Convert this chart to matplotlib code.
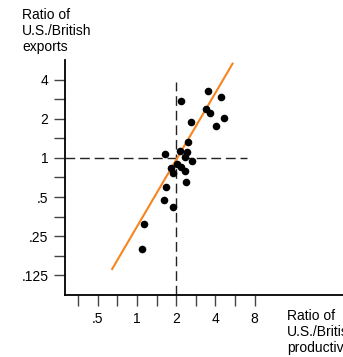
import numpy as np
import matplotlib
matplotlib.use("Agg")
import matplotlib.pyplot as plt
from matplotlib.ticker import FixedLocator, NullFormatter

plt.rcParams["font.family"] = ["Liberation Sans", "DejaVu Sans"]

# ---------------------------------------------------------------------------
# Data (ratio U.S./British)
# ---------------------------------------------------------------------------
productivity = [2.17, 3.52, 4.43, 3.36, 3.65, 4.67, 4.03, 2.60, 2.45, 2.14,
                2.41, 2.35, 1.64, 2.63, 2.04, 1.82, 2.17, 1.89, 2.32, 2.38,
                1.66, 1.62, 1.90, 1.14, 1.10]
exports = [2.77, 3.31, 2.97, 2.40, 2.23, 2.05, 1.76, 1.90, 1.34, 1.13,
           1.12, 1.01, 1.07, 0.94, 0.90, 0.84, 0.85, 0.76, 0.79, 0.65,
           0.60, 0.47, 0.42, 0.31, 0.20]

# fitted trend line (endpoints)
fit_x = [0.64, 5.46]
fit_y = [0.137, 5.43]

# reference lines
ref_x = 2.0
ref_y = 1.0

x_ticks = [0.5, 1, 2, 4, 8]
x_labels = [".5", "1", "2", "4", "8"]
y_ticks = [0.125, 0.25, 0.5, 1, 2, 4]
y_labels = [".125", ".25", ".5", "1", "2", "4"]

# ---------------------------------------------------------------------------
fig = plt.figure(figsize=(3.43, 3.57), dpi=100)
ax = fig.add_axes([65 / 343, 62 / 357, 278 / 343, 235 / 357])
ax.set_xscale("log", base=2)
ax.set_yscale("log", base=2)
ax.set_xlim(0.281, 38)
ax.set_ylim(0.0877, 5.70)

dash = dict(color="#222222", lw=1.0, ls=(0, (7, 3.5)))
ax.plot([ref_x, ref_x], [0.0877, 3.86], **dash)
ax.plot([0.281, 6.98], [ref_y, ref_y], **dash)

ax.plot(fit_x, fit_y, color="#f7841e", lw=1.5, solid_capstyle="butt")
ax.scatter(productivity, exports, s=30, color="black", zorder=3, lw=0)

# ticks: labelled majors plus unlabelled half-steps
ax.xaxis.set_major_locator(FixedLocator(x_ticks))
ax.set_xticklabels(x_labels)
ax.xaxis.set_minor_locator(FixedLocator([0.5 / np.sqrt(2) * 2 ** k
                                         for k in range(5)]))
ax.xaxis.set_minor_formatter(NullFormatter())
ax.yaxis.set_major_locator(FixedLocator(y_ticks))
ax.set_yticklabels(y_labels)
ax.yaxis.set_minor_locator(FixedLocator([0.125 * np.sqrt(2) * 2 ** k
                                         for k in range(5)]))
ax.yaxis.set_minor_formatter(NullFormatter())
ax.tick_params(which="both", direction="out", length=8, width=1.0,
               color="#444444", labelsize=10, pad=4)

for side in ("top", "right"):
    ax.spines[side].set_visible(False)
for side in ("left", "bottom"):
    ax.spines[side].set_linewidth(1.3)

fig.text(22 / 343, 1 - 8 / 357, "Ratio of\nU.S./British\nexports",
         ha="left", va="top", fontsize=10, linespacing=1.2)
fig.text(287 / 343, 1 - 309 / 357, "Ratio of\nU.S./British\nproductivity",
         ha="left", va="top", fontsize=10, linespacing=1.2)

fig.savefig("out.png", dpi=100)
